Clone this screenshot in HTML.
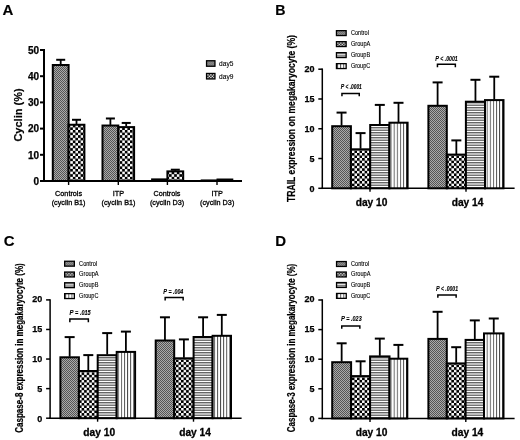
<!DOCTYPE html><html><head><meta charset="utf-8"><style>
html,body{margin:0;padding:0;background:#fff;}
svg{display:block;font-family:"Liberation Sans", sans-serif;will-change:transform;}
</style></head><body>
<svg width="520" height="440" viewBox="0 0 520 440">

<defs>
<pattern id="pC" width="2" height="2" patternUnits="userSpaceOnUse">
  <rect width="2" height="2" fill="#aaaaaa"/>
  <rect width="1" height="1" fill="#555555"/>
  <rect x="1" y="1" width="1" height="1" fill="#555555"/>
</pattern>
<pattern id="pA" width="5.1" height="5.1" patternUnits="userSpaceOnUse">
  <rect width="5.1" height="5.1" fill="#fff"/>
  <rect x="-0.05" y="-0.05" width="2.7" height="2.7" fill="#000"/>
  <rect x="2.5" y="2.5" width="2.7" height="2.7" fill="#000"/>
</pattern>
<pattern id="pB" width="5" height="5" patternUnits="userSpaceOnUse">
  <rect width="5" height="5" fill="#bdbdbd"/>
  <rect y="0" width="5" height="0.9" fill="#5a5a5a"/>
  <rect y="0.9" width="5" height="1.2" fill="#fff"/>
  <rect y="2.1" width="5" height="0.9" fill="#5a5a5a"/>
</pattern>
<pattern id="pD" width="3.1" height="3.1" patternUnits="userSpaceOnUse">
  <rect width="3.1" height="3.1" fill="#fff"/>
  <rect x="0" width="0.9" height="3.1" fill="#4a4a4a"/>
</pattern>
<pattern id="pAL" width="3" height="3" patternUnits="userSpaceOnUse">
  <rect width="3" height="3" fill="#000"/>
  <rect x="0" y="0" width="1.5" height="1.5" fill="#fff"/>
  <rect x="1.5" y="1.5" width="1.5" height="1.5" fill="#fff"/>
</pattern>
<pattern id="pA9" width="5.2" height="5.2" patternUnits="userSpaceOnUse">
  <rect width="5.2" height="5.2" fill="#fff"/>
  <rect x="-0.05" y="-0.05" width="2.75" height="2.75" fill="#000"/>
  <rect x="2.55" y="2.55" width="2.75" height="2.75" fill="#000"/>
</pattern>
<pattern id="pC_0" x="207.2" y="61.4" width="2" height="2" patternUnits="userSpaceOnUse">
  <rect width="2" height="2" fill="#aaaaaa"/>
  <rect width="1" height="1" fill="#555555"/>
  <rect x="1" y="1" width="1" height="1" fill="#555555"/>
</pattern>
<pattern id="pAL_1" x="207.2" y="74.1" width="3" height="3" patternUnits="userSpaceOnUse">
  <rect width="3" height="3" fill="#000"/>
  <rect x="0" y="0" width="1.5" height="1.5" fill="#fff"/>
  <rect x="1.5" y="1.5" width="1.5" height="1.5" fill="#fff"/>
</pattern>
<pattern id="pC_2" x="337.1" y="31.3" width="2" height="2" patternUnits="userSpaceOnUse">
  <rect width="2" height="2" fill="#aaaaaa"/>
  <rect width="1" height="1" fill="#555555"/>
  <rect x="1" y="1" width="1" height="1" fill="#555555"/>
</pattern>
<pattern id="pAL_3" x="337.1" y="42.3" width="3" height="3" patternUnits="userSpaceOnUse">
  <rect width="3" height="3" fill="#000"/>
  <rect x="0" y="0" width="1.5" height="1.5" fill="#fff"/>
  <rect x="1.5" y="1.5" width="1.5" height="1.5" fill="#fff"/>
</pattern>
<pattern id="pB_4" x="337.1" y="53.3" width="5" height="5" patternUnits="userSpaceOnUse">
  <rect width="5" height="5" fill="#bdbdbd"/>
  <rect y="0" width="5" height="0.9" fill="#5a5a5a"/>
  <rect y="0.9" width="5" height="1.2" fill="#fff"/>
  <rect y="2.1" width="5" height="0.9" fill="#5a5a5a"/>
</pattern>
<pattern id="pD_5" x="337.1" y="64.3" width="3.1" height="3.1" patternUnits="userSpaceOnUse">
  <rect width="3.1" height="3.1" fill="#fff"/>
  <rect x="0" width="0.9" height="3.1" fill="#4a4a4a"/>
</pattern>
<pattern id="pC_6" x="65.3" y="261.9" width="2" height="2" patternUnits="userSpaceOnUse">
  <rect width="2" height="2" fill="#aaaaaa"/>
  <rect width="1" height="1" fill="#555555"/>
  <rect x="1" y="1" width="1" height="1" fill="#555555"/>
</pattern>
<pattern id="pAL_7" x="65.3" y="272.7" width="3" height="3" patternUnits="userSpaceOnUse">
  <rect width="3" height="3" fill="#000"/>
  <rect x="0" y="0" width="1.5" height="1.5" fill="#fff"/>
  <rect x="1.5" y="1.5" width="1.5" height="1.5" fill="#fff"/>
</pattern>
<pattern id="pB_8" x="65.3" y="283.4" width="5" height="5" patternUnits="userSpaceOnUse">
  <rect width="5" height="5" fill="#bdbdbd"/>
  <rect y="0" width="5" height="0.9" fill="#5a5a5a"/>
  <rect y="0.9" width="5" height="1.2" fill="#fff"/>
  <rect y="2.1" width="5" height="0.9" fill="#5a5a5a"/>
</pattern>
<pattern id="pD_9" x="65.3" y="294.3" width="3.1" height="3.1" patternUnits="userSpaceOnUse">
  <rect width="3.1" height="3.1" fill="#fff"/>
  <rect x="0" width="0.9" height="3.1" fill="#4a4a4a"/>
</pattern>
<pattern id="pC_10" x="337.2" y="262.2" width="2" height="2" patternUnits="userSpaceOnUse">
  <rect width="2" height="2" fill="#aaaaaa"/>
  <rect width="1" height="1" fill="#555555"/>
  <rect x="1" y="1" width="1" height="1" fill="#555555"/>
</pattern>
<pattern id="pAL_11" x="337.2" y="272.7" width="3" height="3" patternUnits="userSpaceOnUse">
  <rect width="3" height="3" fill="#000"/>
  <rect x="0" y="0" width="1.5" height="1.5" fill="#fff"/>
  <rect x="1.5" y="1.5" width="1.5" height="1.5" fill="#fff"/>
</pattern>
<pattern id="pB_12" x="337.2" y="283.2" width="5" height="5" patternUnits="userSpaceOnUse">
  <rect width="5" height="5" fill="#bdbdbd"/>
  <rect y="0" width="5" height="0.9" fill="#5a5a5a"/>
  <rect y="0.9" width="5" height="1.2" fill="#fff"/>
  <rect y="2.1" width="5" height="0.9" fill="#5a5a5a"/>
</pattern>
<pattern id="pD_13" x="337.2" y="294.1" width="3.1" height="3.1" patternUnits="userSpaceOnUse">
  <rect width="3.1" height="3.1" fill="#fff"/>
  <rect x="0" width="0.9" height="3.1" fill="#4a4a4a"/>
</pattern>
</defs>
<text x="2.6" y="15" font-size="15" font-weight="bold" font-style="normal" text-anchor="start" stroke="#000" stroke-width="0.15" >A</text>
<line x1="44" y1="49.0" x2="44" y2="182.0" stroke="#000" stroke-width="2"/>
<line x1="40.0" y1="181.0" x2="44" y2="181.0" stroke="#000" stroke-width="2"/>
<text x="39.0" y="184.8" font-size="10.0" font-weight="bold" font-style="normal" text-anchor="end" stroke="#000" stroke-width="0.25" >0</text>
<line x1="40.0" y1="154.8" x2="44" y2="154.8" stroke="#000" stroke-width="2"/>
<text x="39.0" y="158.6" font-size="10.0" font-weight="bold" font-style="normal" text-anchor="end" stroke="#000" stroke-width="0.25" >10</text>
<line x1="40.0" y1="128.6" x2="44" y2="128.6" stroke="#000" stroke-width="2"/>
<text x="39.0" y="132.4" font-size="10.0" font-weight="bold" font-style="normal" text-anchor="end" stroke="#000" stroke-width="0.25" >20</text>
<line x1="40.0" y1="102.4" x2="44" y2="102.4" stroke="#000" stroke-width="2"/>
<text x="39.0" y="106.2" font-size="10.0" font-weight="bold" font-style="normal" text-anchor="end" stroke="#000" stroke-width="0.25" >30</text>
<line x1="40.0" y1="76.2" x2="44" y2="76.2" stroke="#000" stroke-width="2"/>
<text x="39.0" y="80" font-size="10.0" font-weight="bold" font-style="normal" text-anchor="end" stroke="#000" stroke-width="0.25" >40</text>
<line x1="40.0" y1="50.0" x2="44" y2="50.0" stroke="#000" stroke-width="2"/>
<text x="39.0" y="53.8" font-size="10.0" font-weight="bold" font-style="normal" text-anchor="end" stroke="#000" stroke-width="0.25" >50</text>
<line x1="43" y1="181" x2="242" y2="181" stroke="#000" stroke-width="2"/>
<line x1="60.7" y1="64.41" x2="60.7" y2="59.79" stroke="#000" stroke-width="1.8"/>
<line x1="56.2" y1="59.79" x2="65.2" y2="59.79" stroke="#000" stroke-width="2"/>
<rect x="52.8" y="65.01" width="15.8" height="115.99" fill="url(#pC)" stroke="#000" stroke-width="2"/>
<line x1="76.5" y1="124.15" x2="76.5" y2="119.79" stroke="#000" stroke-width="1.8"/>
<line x1="72.0" y1="119.79" x2="81.0" y2="119.79" stroke="#000" stroke-width="2"/>
<rect x="68.6" y="124.75" width="15.8" height="56.25" fill="url(#pA9)" stroke="#000" stroke-width="2"/>
<line x1="68.6" y1="181" x2="68.6" y2="185" stroke="#000" stroke-width="1.4"/>
<line x1="110.4" y1="124.93" x2="110.4" y2="118.48" stroke="#000" stroke-width="1.8"/>
<line x1="105.9" y1="118.48" x2="114.9" y2="118.48" stroke="#000" stroke-width="2"/>
<rect x="102.5" y="125.53" width="15.8" height="55.47" fill="url(#pC)" stroke="#000" stroke-width="2"/>
<line x1="126.2" y1="126.5" x2="126.2" y2="122.94" stroke="#000" stroke-width="1.8"/>
<line x1="121.7" y1="122.94" x2="130.7" y2="122.94" stroke="#000" stroke-width="2"/>
<rect x="118.3" y="127.1" width="15.8" height="53.9" fill="url(#pA9)" stroke="#000" stroke-width="2"/>
<line x1="118.3" y1="181" x2="118.3" y2="185" stroke="#000" stroke-width="1.4"/>
<rect x="151.1" y="178.38" width="16.8" height="2.62" fill="#000"/>
<line x1="175.3" y1="170.78" x2="175.3" y2="169.7" stroke="#000" stroke-width="1.8"/>
<line x1="170.8" y1="169.7" x2="179.8" y2="169.7" stroke="#000" stroke-width="2"/>
<rect x="167.4" y="171.38" width="15.8" height="9.62" fill="url(#pA9)" stroke="#000" stroke-width="2"/>
<line x1="167.4" y1="181" x2="167.4" y2="185" stroke="#000" stroke-width="1.4"/>
<rect x="200.7" y="179.43" width="16.8" height="1.57" fill="#000"/>
<rect x="216.5" y="178.51" width="16.8" height="2.49" fill="#000"/>
<line x1="217" y1="181" x2="217" y2="185" stroke="#000" stroke-width="1.4"/>
<text x="68.6" y="195.8" font-size="7.25" font-weight="normal" font-style="normal" text-anchor="middle" stroke="#000" stroke-width="0.3" >Controls</text>
<text x="68.6" y="204.9" font-size="7.25" font-weight="normal" font-style="normal" text-anchor="middle" stroke="#000" stroke-width="0.3" >(cyclin B1)</text>
<text x="118.5" y="195.8" font-size="7.25" font-weight="normal" font-style="normal" text-anchor="middle" stroke="#000" stroke-width="0.3" >ITP</text>
<text x="118.5" y="204.9" font-size="7.25" font-weight="normal" font-style="normal" text-anchor="middle" stroke="#000" stroke-width="0.3" >(cyclin B1)</text>
<text x="167.0" y="195.8" font-size="7.25" font-weight="normal" font-style="normal" text-anchor="middle" stroke="#000" stroke-width="0.3" >Controls</text>
<text x="167.0" y="204.9" font-size="7.25" font-weight="normal" font-style="normal" text-anchor="middle" stroke="#000" stroke-width="0.3" >(cyclin D3)</text>
<text x="217.2" y="195.8" font-size="7.25" font-weight="normal" font-style="normal" text-anchor="middle" stroke="#000" stroke-width="0.3" >ITP</text>
<text x="217.2" y="204.9" font-size="7.25" font-weight="normal" font-style="normal" text-anchor="middle" stroke="#000" stroke-width="0.3" >(cyclin D3)</text>
<rect x="206.55" y="60.75" width="8.4" height="5.5" fill="url(#pC_0)" stroke="#000" stroke-width="1.3"/>
<text x="219.1" y="66.4" font-size="8.0" font-weight="normal" font-style="normal" text-anchor="start" stroke="#000" stroke-width="0.12" textLength="14.3" lengthAdjust="spacingAndGlyphs">day5</text>
<rect x="206.55" y="73.45" width="8.4" height="5.5" fill="url(#pAL_1)" stroke="#000" stroke-width="1.3"/>
<text x="219.1" y="79.1" font-size="8.0" font-weight="normal" font-style="normal" text-anchor="start" stroke="#000" stroke-width="0.12" textLength="14.3" lengthAdjust="spacingAndGlyphs">day9</text>
<text transform="translate(21.6,115) rotate(-90)" font-size="11" font-weight="bold" stroke="#000" stroke-width="0.2" text-anchor="middle">Cyclin (%)</text>
<text x="275.2" y="15" font-size="14.2" font-weight="bold" font-style="normal" text-anchor="start" stroke="#000" stroke-width="0.15" >B</text>
<line x1="322.3" y1="68.45" x2="322.3" y2="189.05" stroke="#000" stroke-width="1.5"/>
<line x1="318.3" y1="188.3" x2="322.3" y2="188.3" stroke="#000" stroke-width="1.5"/>
<text x="314.4" y="191.8" font-size="9.0" font-weight="bold" font-style="normal" text-anchor="end" stroke="#000" stroke-width="0.25" >0</text>
<line x1="318.3" y1="158.53" x2="322.3" y2="158.53" stroke="#000" stroke-width="1.5"/>
<text x="314.4" y="161.75" font-size="9.0" font-weight="bold" font-style="normal" text-anchor="end" stroke="#000" stroke-width="0.25" >5</text>
<line x1="318.3" y1="128.75" x2="322.3" y2="128.75" stroke="#000" stroke-width="1.5"/>
<text x="314.4" y="131.7" font-size="9.0" font-weight="bold" font-style="normal" text-anchor="end" stroke="#000" stroke-width="0.25" >10</text>
<line x1="318.3" y1="98.98" x2="322.3" y2="98.98" stroke="#000" stroke-width="1.5"/>
<text x="314.4" y="101.65" font-size="9.0" font-weight="bold" font-style="normal" text-anchor="end" stroke="#000" stroke-width="0.25" >15</text>
<line x1="318.3" y1="69.2" x2="322.3" y2="69.2" stroke="#000" stroke-width="1.5"/>
<text x="314.4" y="71.6" font-size="9.0" font-weight="bold" font-style="normal" text-anchor="end" stroke="#000" stroke-width="0.25" >20</text>
<line x1="321.55" y1="188.3" x2="514.6" y2="188.3" stroke="#000" stroke-width="1.5"/>
<line x1="341.55" y1="125.6" x2="341.55" y2="112.6" stroke="#000" stroke-width="1.8"/>
<line x1="336.55" y1="112.6" x2="346.55" y2="112.6" stroke="#000" stroke-width="2"/>
<rect x="332.2" y="126.2" width="18.7" height="62.1" fill="url(#pC)" stroke="#000" stroke-width="2"/>
<line x1="360.55" y1="148.7" x2="360.55" y2="133.1" stroke="#000" stroke-width="1.8"/>
<line x1="355.55" y1="133.1" x2="365.55" y2="133.1" stroke="#000" stroke-width="2"/>
<rect x="350.9" y="149.3" width="19.3" height="39" fill="url(#pA)" stroke="#000" stroke-width="2"/>
<line x1="379.8" y1="124.4" x2="379.8" y2="104.9" stroke="#000" stroke-width="1.8"/>
<line x1="374.8" y1="104.9" x2="384.8" y2="104.9" stroke="#000" stroke-width="2"/>
<rect x="370.2" y="125.0" width="19.2" height="63.3" fill="url(#pB)" stroke="#000" stroke-width="2"/>
<line x1="398.5" y1="122.1" x2="398.5" y2="102.8" stroke="#000" stroke-width="1.8"/>
<line x1="393.5" y1="102.8" x2="403.5" y2="102.8" stroke="#000" stroke-width="2"/>
<rect x="389.4" y="122.7" width="18.2" height="65.6" fill="url(#pD)" stroke="#000" stroke-width="2"/>
<line x1="370" y1="188.3" x2="370" y2="191.8" stroke="#000" stroke-width="1.4"/>
<text x="371.6" y="205.8" font-size="10.2" font-weight="bold" font-style="normal" text-anchor="middle" stroke="#000" stroke-width="0.3" >day 10</text>
<line x1="437.6" y1="105.2" x2="437.6" y2="82.4" stroke="#000" stroke-width="1.8"/>
<line x1="432.6" y1="82.4" x2="442.6" y2="82.4" stroke="#000" stroke-width="2"/>
<rect x="428.4" y="105.8" width="18.4" height="82.5" fill="url(#pC)" stroke="#000" stroke-width="2"/>
<line x1="456.35" y1="154" x2="456.35" y2="140.4" stroke="#000" stroke-width="1.8"/>
<line x1="451.35" y1="140.4" x2="461.35" y2="140.4" stroke="#000" stroke-width="2"/>
<rect x="446.8" y="154.6" width="19.1" height="33.7" fill="url(#pA)" stroke="#000" stroke-width="2"/>
<line x1="475.45" y1="101.1" x2="475.45" y2="79.8" stroke="#000" stroke-width="1.8"/>
<line x1="470.45" y1="79.8" x2="480.45" y2="79.8" stroke="#000" stroke-width="2"/>
<rect x="465.9" y="101.7" width="19.1" height="86.6" fill="url(#pB)" stroke="#000" stroke-width="2"/>
<line x1="494.25" y1="99.5" x2="494.25" y2="76.7" stroke="#000" stroke-width="1.8"/>
<line x1="489.25" y1="76.7" x2="499.25" y2="76.7" stroke="#000" stroke-width="2"/>
<rect x="485" y="100.1" width="18.5" height="88.2" fill="url(#pD)" stroke="#000" stroke-width="2"/>
<line x1="466" y1="188.3" x2="466" y2="191.8" stroke="#000" stroke-width="1.4"/>
<text x="467.6" y="205.8" font-size="10.2" font-weight="bold" font-style="normal" text-anchor="middle" stroke="#000" stroke-width="0.3" >day 14</text>
<polyline points="341.95,96.3 341.95,93.55 359.25,93.55 359.25,96.3" fill="none" stroke="#000" stroke-width="1.5"/>
<text x="340.8" y="89.3" font-size="6.6" font-weight="bold" font-style="italic" stroke="#000" stroke-width="0.12" textLength="21" lengthAdjust="spacingAndGlyphs"><tspan font-size="7.1">P</tspan> &lt; .0001</text>
<polyline points="437.45,67.2 437.45,64.3 455.35,64.3 455.35,67.2" fill="none" stroke="#000" stroke-width="1.5"/>
<text x="435.2" y="60.8" font-size="6.6" font-weight="bold" font-style="italic" stroke="#000" stroke-width="0.12" textLength="22.5" lengthAdjust="spacingAndGlyphs"><tspan font-size="7.1">P</tspan> &lt; .0001</text>
<text transform="translate(294.5,118.5) rotate(-90)" font-size="10.2" font-weight="bold" stroke="#000" stroke-width="0.2" text-anchor="middle" textLength="167" lengthAdjust="spacingAndGlyphs">TRAIL expression on megakaryocyte (%)</text>
<rect x="336.45" y="30.65" width="9.7" height="4.9" fill="url(#pC_2)" stroke="#000" stroke-width="1.3"/>
<text x="350.9" y="35.0" font-size="6.6" font-weight="normal" font-style="normal" text-anchor="start" stroke="#000" stroke-width="0.12" textLength="18.0" lengthAdjust="spacingAndGlyphs">Control</text>
<rect x="336.45" y="41.65" width="9.7" height="4.9" fill="url(#pAL_3)" stroke="#000" stroke-width="1.3"/>
<text x="350.9" y="46.0" font-size="6.6" font-weight="normal" font-style="normal" text-anchor="start" stroke="#000" stroke-width="0.12" textLength="19.5" lengthAdjust="spacingAndGlyphs">GroupA</text>
<rect x="336.45" y="52.65" width="9.7" height="4.9" fill="url(#pB_4)" stroke="#000" stroke-width="1.3"/>
<text x="350.9" y="57.0" font-size="6.6" font-weight="normal" font-style="normal" text-anchor="start" stroke="#000" stroke-width="0.12" textLength="19.3" lengthAdjust="spacingAndGlyphs">GroupB</text>
<rect x="336.45" y="63.65" width="9.7" height="4.9" fill="url(#pD_5)" stroke="#000" stroke-width="1.3"/>
<text x="350.9" y="68.0" font-size="6.6" font-weight="normal" font-style="normal" text-anchor="start" stroke="#000" stroke-width="0.12" textLength="19.3" lengthAdjust="spacingAndGlyphs">GroupC</text>
<text x="3.7" y="246" font-size="15" font-weight="bold" font-style="normal" text-anchor="start" stroke="#000" stroke-width="0.15" >C</text>
<line x1="50.1" y1="299.15" x2="50.1" y2="418.95" stroke="#000" stroke-width="1.5"/>
<line x1="46.1" y1="418.2" x2="50.1" y2="418.2" stroke="#000" stroke-width="1.5"/>
<text x="42.2" y="421.7" font-size="9.0" font-weight="bold" font-style="normal" text-anchor="end" stroke="#000" stroke-width="0.25" >0</text>
<line x1="46.1" y1="388.62" x2="50.1" y2="388.62" stroke="#000" stroke-width="1.5"/>
<text x="42.2" y="391.85" font-size="9.0" font-weight="bold" font-style="normal" text-anchor="end" stroke="#000" stroke-width="0.25" >5</text>
<line x1="46.1" y1="359.05" x2="50.1" y2="359.05" stroke="#000" stroke-width="1.5"/>
<text x="42.2" y="362" font-size="9.0" font-weight="bold" font-style="normal" text-anchor="end" stroke="#000" stroke-width="0.25" >10</text>
<line x1="46.1" y1="329.47" x2="50.1" y2="329.47" stroke="#000" stroke-width="1.5"/>
<text x="42.2" y="332.15" font-size="9.0" font-weight="bold" font-style="normal" text-anchor="end" stroke="#000" stroke-width="0.25" >15</text>
<line x1="46.1" y1="299.9" x2="50.1" y2="299.9" stroke="#000" stroke-width="1.5"/>
<text x="42.2" y="302.3" font-size="9.0" font-weight="bold" font-style="normal" text-anchor="end" stroke="#000" stroke-width="0.25" >20</text>
<line x1="49.35" y1="418.2" x2="241.6" y2="418.2" stroke="#000" stroke-width="1.5"/>
<line x1="69.65" y1="356.7" x2="69.65" y2="337.1" stroke="#000" stroke-width="1.8"/>
<line x1="64.65" y1="337.1" x2="74.65" y2="337.1" stroke="#000" stroke-width="2"/>
<rect x="60.4" y="357.3" width="18.5" height="60.9" fill="url(#pC)" stroke="#000" stroke-width="2"/>
<line x1="88.3" y1="370.4" x2="88.3" y2="355.1" stroke="#000" stroke-width="1.8"/>
<line x1="83.3" y1="355.1" x2="93.3" y2="355.1" stroke="#000" stroke-width="2"/>
<rect x="78.9" y="371.0" width="18.8" height="47.2" fill="url(#pA)" stroke="#000" stroke-width="2"/>
<line x1="107.2" y1="354.6" x2="107.2" y2="333.1" stroke="#000" stroke-width="1.8"/>
<line x1="102.2" y1="333.1" x2="112.2" y2="333.1" stroke="#000" stroke-width="2"/>
<rect x="97.7" y="355.2" width="19.0" height="63" fill="url(#pB)" stroke="#000" stroke-width="2"/>
<line x1="125.9" y1="351.3" x2="125.9" y2="331.6" stroke="#000" stroke-width="1.8"/>
<line x1="120.9" y1="331.6" x2="130.9" y2="331.6" stroke="#000" stroke-width="2"/>
<rect x="116.7" y="351.9" width="18.4" height="66.3" fill="url(#pD)" stroke="#000" stroke-width="2"/>
<line x1="97.6" y1="418.2" x2="97.6" y2="421.7" stroke="#000" stroke-width="1.4"/>
<text x="99.2" y="435.7" font-size="10.2" font-weight="bold" font-style="normal" text-anchor="middle" stroke="#000" stroke-width="0.3" >day 10</text>
<line x1="164.95" y1="339.9" x2="164.95" y2="317.3" stroke="#000" stroke-width="1.8"/>
<line x1="159.95" y1="317.3" x2="169.95" y2="317.3" stroke="#000" stroke-width="2"/>
<rect x="155.7" y="340.5" width="18.5" height="77.7" fill="url(#pC)" stroke="#000" stroke-width="2"/>
<line x1="183.9" y1="357.7" x2="183.9" y2="339.4" stroke="#000" stroke-width="1.8"/>
<line x1="178.9" y1="339.4" x2="188.9" y2="339.4" stroke="#000" stroke-width="2"/>
<rect x="174.2" y="358.3" width="19.4" height="59.9" fill="url(#pA)" stroke="#000" stroke-width="2"/>
<line x1="203.1" y1="336.4" x2="203.1" y2="317.3" stroke="#000" stroke-width="1.8"/>
<line x1="198.1" y1="317.3" x2="208.1" y2="317.3" stroke="#000" stroke-width="2"/>
<rect x="193.6" y="337.0" width="19.0" height="81.2" fill="url(#pB)" stroke="#000" stroke-width="2"/>
<line x1="221.8" y1="335.2" x2="221.8" y2="314.9" stroke="#000" stroke-width="1.8"/>
<line x1="216.8" y1="314.9" x2="226.8" y2="314.9" stroke="#000" stroke-width="2"/>
<rect x="212.6" y="335.8" width="18.4" height="82.4" fill="url(#pD)" stroke="#000" stroke-width="2"/>
<line x1="193.5" y1="418.2" x2="193.5" y2="421.7" stroke="#000" stroke-width="1.4"/>
<text x="195.1" y="435.7" font-size="10.2" font-weight="bold" font-style="normal" text-anchor="middle" stroke="#000" stroke-width="0.3" >day 14</text>
<polyline points="69.85,322.2 69.85,319.1 88.35,319.1 88.35,322.2" fill="none" stroke="#000" stroke-width="1.5"/>
<text x="69.6" y="315.2" font-size="6.6" font-weight="bold" font-style="italic" stroke="#000" stroke-width="0.12" textLength="21.1" lengthAdjust="spacingAndGlyphs"><tspan font-size="7.1">P</tspan> = .015</text>
<polyline points="165.15,300.4 165.15,297.6 183.15,297.6 183.15,300.4" fill="none" stroke="#000" stroke-width="1.5"/>
<text x="163.2" y="293.8" font-size="6.6" font-weight="bold" font-style="italic" stroke="#000" stroke-width="0.12" textLength="20.1" lengthAdjust="spacingAndGlyphs"><tspan font-size="7.1">P</tspan> = .004</text>
<text transform="translate(23.3,348) rotate(-90)" font-size="10.2" font-weight="bold" stroke="#000" stroke-width="0.2" text-anchor="middle" textLength="169.5" lengthAdjust="spacingAndGlyphs">Caspase-8 expression in megakaryocyte (%)</text>
<rect x="64.65" y="261.25" width="9.7" height="4.9" fill="url(#pC_6)" stroke="#000" stroke-width="1.3"/>
<text x="79.1" y="265.6" font-size="6.6" font-weight="normal" font-style="normal" text-anchor="start" stroke="#000" stroke-width="0.12" textLength="18.0" lengthAdjust="spacingAndGlyphs">Control</text>
<rect x="64.65" y="272.05" width="9.7" height="4.9" fill="url(#pAL_7)" stroke="#000" stroke-width="1.3"/>
<text x="79.1" y="276.4" font-size="6.6" font-weight="normal" font-style="normal" text-anchor="start" stroke="#000" stroke-width="0.12" textLength="19.5" lengthAdjust="spacingAndGlyphs">GroupA</text>
<rect x="64.65" y="282.75" width="9.7" height="4.9" fill="url(#pB_8)" stroke="#000" stroke-width="1.3"/>
<text x="79.1" y="287.1" font-size="6.6" font-weight="normal" font-style="normal" text-anchor="start" stroke="#000" stroke-width="0.12" textLength="19.3" lengthAdjust="spacingAndGlyphs">GroupB</text>
<rect x="64.65" y="293.65" width="9.7" height="4.9" fill="url(#pD_9)" stroke="#000" stroke-width="1.3"/>
<text x="79.1" y="298.0" font-size="6.6" font-weight="normal" font-style="normal" text-anchor="start" stroke="#000" stroke-width="0.12" textLength="19.3" lengthAdjust="spacingAndGlyphs">GroupC</text>
<text x="275.3" y="246" font-size="15" font-weight="bold" font-style="normal" text-anchor="start" stroke="#000" stroke-width="0.15" >D</text>
<line x1="322.3" y1="299.25" x2="322.3" y2="419.15" stroke="#000" stroke-width="1.5"/>
<line x1="318.3" y1="418.4" x2="322.3" y2="418.4" stroke="#000" stroke-width="1.5"/>
<text x="314.4" y="421.9" font-size="9.0" font-weight="bold" font-style="normal" text-anchor="end" stroke="#000" stroke-width="0.25" >0</text>
<line x1="318.3" y1="388.8" x2="322.3" y2="388.8" stroke="#000" stroke-width="1.5"/>
<text x="314.4" y="392.02" font-size="9.0" font-weight="bold" font-style="normal" text-anchor="end" stroke="#000" stroke-width="0.25" >5</text>
<line x1="318.3" y1="359.2" x2="322.3" y2="359.2" stroke="#000" stroke-width="1.5"/>
<text x="314.4" y="362.15" font-size="9.0" font-weight="bold" font-style="normal" text-anchor="end" stroke="#000" stroke-width="0.25" >10</text>
<line x1="318.3" y1="329.6" x2="322.3" y2="329.6" stroke="#000" stroke-width="1.5"/>
<text x="314.4" y="332.28" font-size="9.0" font-weight="bold" font-style="normal" text-anchor="end" stroke="#000" stroke-width="0.25" >15</text>
<line x1="318.3" y1="300.0" x2="322.3" y2="300.0" stroke="#000" stroke-width="1.5"/>
<text x="314.4" y="302.4" font-size="9.0" font-weight="bold" font-style="normal" text-anchor="end" stroke="#000" stroke-width="0.25" >20</text>
<line x1="321.55" y1="418.4" x2="514.6" y2="418.4" stroke="#000" stroke-width="1.5"/>
<line x1="341.65" y1="361.6" x2="341.65" y2="343.3" stroke="#000" stroke-width="1.8"/>
<line x1="336.65" y1="343.3" x2="346.65" y2="343.3" stroke="#000" stroke-width="2"/>
<rect x="332.2" y="362.2" width="18.9" height="56.2" fill="url(#pC)" stroke="#000" stroke-width="2"/>
<line x1="360.6" y1="375.5" x2="360.6" y2="361.3" stroke="#000" stroke-width="1.8"/>
<line x1="355.6" y1="361.3" x2="365.6" y2="361.3" stroke="#000" stroke-width="2"/>
<rect x="351.1" y="376.1" width="19.0" height="42.3" fill="url(#pA)" stroke="#000" stroke-width="2"/>
<line x1="379.8" y1="355.8" x2="379.8" y2="338.6" stroke="#000" stroke-width="1.8"/>
<line x1="374.8" y1="338.6" x2="384.8" y2="338.6" stroke="#000" stroke-width="2"/>
<rect x="370.1" y="356.4" width="19.4" height="62" fill="url(#pB)" stroke="#000" stroke-width="2"/>
<line x1="398.4" y1="358.1" x2="398.4" y2="344.9" stroke="#000" stroke-width="1.8"/>
<line x1="393.4" y1="344.9" x2="403.4" y2="344.9" stroke="#000" stroke-width="2"/>
<rect x="389.5" y="358.7" width="17.8" height="59.7" fill="url(#pD)" stroke="#000" stroke-width="2"/>
<line x1="370" y1="418.4" x2="370" y2="421.9" stroke="#000" stroke-width="1.4"/>
<text x="371.6" y="435.9" font-size="10.2" font-weight="bold" font-style="normal" text-anchor="middle" stroke="#000" stroke-width="0.3" >day 10</text>
<line x1="437.6" y1="338.3" x2="437.6" y2="311.8" stroke="#000" stroke-width="1.8"/>
<line x1="432.6" y1="311.8" x2="442.6" y2="311.8" stroke="#000" stroke-width="2"/>
<rect x="428.4" y="338.9" width="18.4" height="79.5" fill="url(#pC)" stroke="#000" stroke-width="2"/>
<line x1="456.2" y1="362.8" x2="456.2" y2="347.2" stroke="#000" stroke-width="1.8"/>
<line x1="451.2" y1="347.2" x2="461.2" y2="347.2" stroke="#000" stroke-width="2"/>
<rect x="446.8" y="363.4" width="18.8" height="55" fill="url(#pA)" stroke="#000" stroke-width="2"/>
<line x1="474.8" y1="339.3" x2="474.8" y2="320.4" stroke="#000" stroke-width="1.8"/>
<line x1="469.8" y1="320.4" x2="479.8" y2="320.4" stroke="#000" stroke-width="2"/>
<rect x="465.6" y="339.9" width="18.4" height="78.5" fill="url(#pB)" stroke="#000" stroke-width="2"/>
<line x1="493.75" y1="332.8" x2="493.75" y2="318.5" stroke="#000" stroke-width="1.8"/>
<line x1="488.75" y1="318.5" x2="498.75" y2="318.5" stroke="#000" stroke-width="2"/>
<rect x="484" y="333.4" width="19.5" height="85" fill="url(#pD)" stroke="#000" stroke-width="2"/>
<line x1="465.8" y1="418.4" x2="465.8" y2="421.9" stroke="#000" stroke-width="1.4"/>
<text x="467.4" y="435.9" font-size="10.2" font-weight="bold" font-style="normal" text-anchor="middle" stroke="#000" stroke-width="0.3" >day 14</text>
<polyline points="341.75,328.8 341.75,326 359.85,326 359.85,328.8" fill="none" stroke="#000" stroke-width="1.5"/>
<text x="340.9" y="321.1" font-size="6.6" font-weight="bold" font-style="italic" stroke="#000" stroke-width="0.12" textLength="20.8" lengthAdjust="spacingAndGlyphs"><tspan font-size="7.1">P</tspan> = .023</text>
<polyline points="437.85,297.8 437.85,295 456.15,295 456.15,297.8" fill="none" stroke="#000" stroke-width="1.5"/>
<text x="435.9" y="291.0" font-size="6.6" font-weight="bold" font-style="italic" stroke="#000" stroke-width="0.12" textLength="22.1" lengthAdjust="spacingAndGlyphs"><tspan font-size="7.1">P</tspan> &lt; .0001</text>
<text transform="translate(294.5,348) rotate(-90)" font-size="10.2" font-weight="bold" stroke="#000" stroke-width="0.2" text-anchor="middle" textLength="168.5" lengthAdjust="spacingAndGlyphs">Caspase-3 expression in megakaryocyte (%)</text>
<rect x="336.55" y="261.55" width="9.7" height="4.9" fill="url(#pC_10)" stroke="#000" stroke-width="1.3"/>
<text x="351.0" y="265.9" font-size="6.6" font-weight="normal" font-style="normal" text-anchor="start" stroke="#000" stroke-width="0.12" textLength="18.0" lengthAdjust="spacingAndGlyphs">Control</text>
<rect x="336.55" y="272.05" width="9.7" height="4.9" fill="url(#pAL_11)" stroke="#000" stroke-width="1.3"/>
<text x="351.0" y="276.4" font-size="6.6" font-weight="normal" font-style="normal" text-anchor="start" stroke="#000" stroke-width="0.12" textLength="19.5" lengthAdjust="spacingAndGlyphs">GroupA</text>
<rect x="336.55" y="282.55" width="9.7" height="4.9" fill="url(#pB_12)" stroke="#000" stroke-width="1.3"/>
<text x="351.0" y="286.9" font-size="6.6" font-weight="normal" font-style="normal" text-anchor="start" stroke="#000" stroke-width="0.12" textLength="19.3" lengthAdjust="spacingAndGlyphs">GroupB</text>
<rect x="336.55" y="293.45" width="9.7" height="4.9" fill="url(#pD_13)" stroke="#000" stroke-width="1.3"/>
<text x="351.0" y="297.8" font-size="6.6" font-weight="normal" font-style="normal" text-anchor="start" stroke="#000" stroke-width="0.12" textLength="19.3" lengthAdjust="spacingAndGlyphs">GroupC</text>
</svg></body></html>
